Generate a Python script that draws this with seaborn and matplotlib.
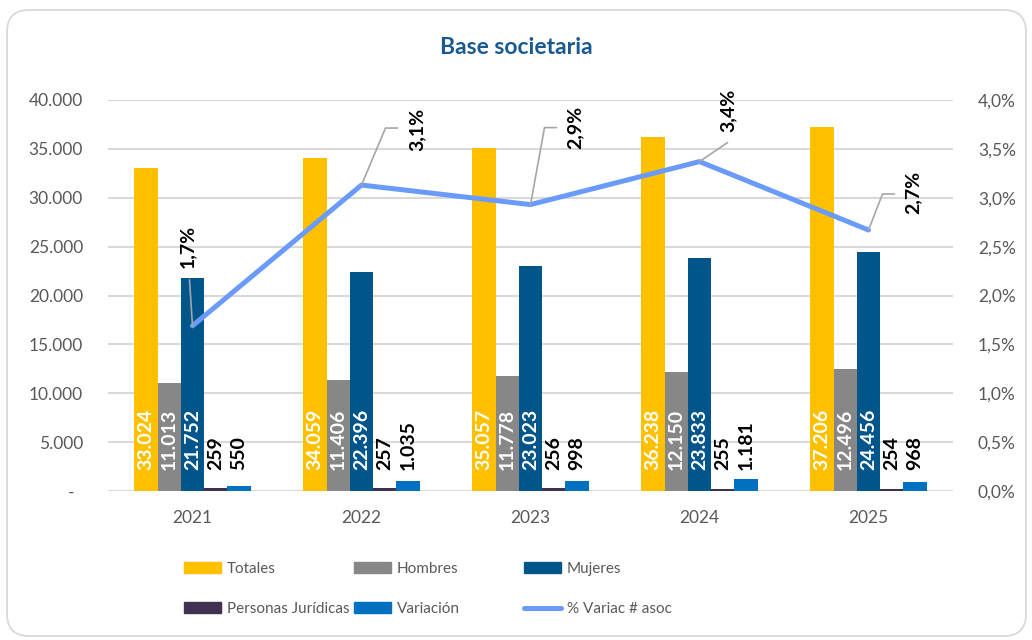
import numpy as np
import pandas as pd
import matplotlib.pyplot as plt
import matplotlib.transforms as mtransforms
from matplotlib.lines import Line2D
from matplotlib.patches import FancyBboxPatch, Patch
import seaborn as sns

years = ["2021", "2022", "2023", "2024", "2025"]
totales = [33024, 34059, 35057, 36238, 37206]
hombres = [11013, 11406, 11778, 12150, 12496]
mujeres = [21752, 22396, 23023, 23833, 24456]
juridicas = [259, 257, 256, 255, 254]
variacion = [550, 1035, 998, 1181, 968]
pct_var = [0.0169, 0.0313, 0.0293, 0.0337, 0.0267]
pct_labels = ["1,7%", "3,1%", "2,9%", "3,4%", "2,7%"]

series = ["Totales", "Hombres", "Mujeres", "Personas Jurídicas", "Variación"]
palette = {
    "Totales": "#FFC000",
    "Hombres": "#878787",
    "Mujeres": "#00558B",
    "Personas Jurídicas": "#3F3151",
    "Variación": "#0070C0",
}
line_color = "#6A9BFB"
grey_txt = "#595959"
grid_col = "#D9D9D9"

df = pd.DataFrame({
    "year": years * 5,
    "serie": [s for s in series for _ in years],
    "value": totales + hombres + mujeres + juridicas + variacion,
})

sns.set_style("white")
plt.rcParams["font.family"] = ["Lato", "DejaVu Sans"]

fig = plt.figure(figsize=(10.32, 6.4), dpi=100)
ax = fig.add_axes([108 / 1032, 1 - 491 / 640, (953 - 108) / 1032, (491 - 100) / 640])

sns.barplot(data=df, x="year", y="value", hue="serie", hue_order=series,
            palette=palette, width=0.69, gap=0, saturation=1, linewidth=0,
            legend=False, ax=ax)
ax.set_ylim(0, 40000)
ax.set_yticks(np.arange(0, 40001, 5000))
ax.set_yticklabels(["-  "] + [f"{v:,}".replace(",", ".") for v in range(5000, 40001, 5000)])
ax.set_xlim(-0.5, 4.5)
ax.set_xlabel("")
ax.set_ylabel("")
ax.grid(axis="y", color=grid_col, lw=1.5)
ax.set_axisbelow(True)
for s in ax.spines.values():
    s.set_visible(False)
ax.tick_params(axis="y", length=0, pad=18, labelsize=12.5, labelcolor=grey_txt)
ax.tick_params(axis="x", length=0, pad=14, labelsize=12.5, labelcolor=grey_txt)

# value labels at the base of each bar
for i, cont in enumerate(ax.containers):
    col = "white" if i < 3 else "black"
    for bar in cont:
        v = int(round(bar.get_height()))
        ax.annotate(f"{v:,}".replace(",", "."),
                    (bar.get_x() + bar.get_width() / 2, 0),
                    xytext=(0, 21), textcoords="offset pixels",
                    rotation=90, ha="center", va="bottom",
                    fontsize=14, fontweight="bold", color=col)

ax2 = ax.twinx()
xpos = np.arange(len(years))
sns.lineplot(x=xpos, y=pct_var, ax=ax2, color=line_color, lw=3.6, legend=False)
ax2.set_ylim(0, 0.04)
ax2.set_xlim(-0.5, 4.5)
ax2.set_yticks(np.arange(0, 0.0401, 0.005))
ax2.set_yticklabels([f"{v * 100:.1f}%".replace(".", ",") for v in np.arange(0, 0.0401, 0.005)])
ax2.tick_params(axis="y", length=0, pad=18, labelsize=12.5, labelcolor=grey_txt)
for s in ax2.spines.values():
    s.set_visible(False)
ax2.set_ylabel("")

# leader lines (pixel offsets from each point) and label positions
leaders = [[(0, 0), (-3, 46)],
           [(0, 0), (24, 57), (36, 57)],
           [(0, 0), (14, 77), (26, 77)],
           [(0, 0), (28, 19)],
           [(0, 0), (14, 36), (26, 36)]]
text_off = [(-5, 79), (56, 56), (45, 77), (29, 51), (44, 38)]
ident = mtransforms.IdentityTransform()
for i, p in enumerate(pct_var):
    px, py = ax2.transData.transform((xpos[i], p))
    xs = [px + a for a, b in leaders[i]]
    ys = [py + b for a, b in leaders[i]]
    fig.add_artist(Line2D(xs, ys, color="#A6A6A6", lw=1.2, transform=ident))
    ax2.annotate(pct_labels[i], (xpos[i], p), xytext=text_off[i],
                 textcoords="offset pixels", rotation=90, ha="center", va="center",
                 fontsize=14, fontweight="bold", color="black")

fig.text(0.5, 1 - 47 / 640, "Base societaria", ha="center", va="center",
         fontsize=16.5, fontweight="bold", color="#1B5A8E")

# legend in three columns
handles = [Patch(color=palette[s]) for s in series] + [Line2D([], [], color=line_color, lw=3.6)]
labels = series + ["% Variac # asoc"]
cols = [(0, 3), (1, 4), (2, 5)]
col_x = [184, 354, 524]
for (a, b), cx in zip(cols, col_x):
    fig.legend([handles[a], handles[b]], [labels[a], labels[b]],
               loc="upper left", bbox_to_anchor=(cx / 1032, 1 - 562 / 640),
               frameon=False, ncol=1, fontsize=11, labelcolor=grey_txt,
               handlelength=2.45, handleheight=0.7, handletextpad=0.35,
               labelspacing=1.7, borderpad=0, borderaxespad=0)

fig.add_artist(FancyBboxPatch((7, 4), 1019, 626,
                              boxstyle="round,pad=0,rounding_size=22",
                              transform=ident, fc="none", ec=grid_col, lw=1.3))

fig.savefig("out.png", dpi=100)
